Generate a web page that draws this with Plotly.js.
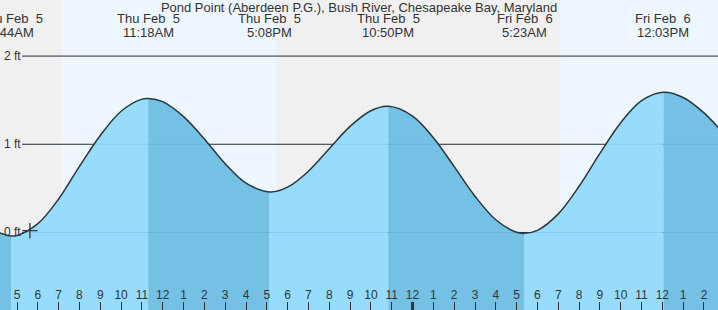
<!DOCTYPE html>
<html>
<head>
<meta charset="utf-8">
<script src="https://cdn.plot.ly/plotly-3.0.1.min.js"></script>
<style>
html,body{margin:0;padding:0;background:#f0f0f0;}
#chart{width:718px;height:310px;}
</style>
</head>
<body>
<div id="chart"></div>
<script>
// ---- data (hours since midnight Thu Feb 5, height in feet) ----
const tideHours = [4, 4.733, 5, 6, 7, 8, 9, 10, 11, 11.3, 12, 13, 14, 15, 16, 17.133, 18, 19, 20, 21, 22, 22.833, 24, 25, 26, 27, 28, 29, 29.383, 30, 31, 32, 33, 34, 35, 36.05, 37, 38, 39];
const tideFeet  = [0.01, -0.04, -0.034, 0.10, 0.38, 0.75, 1.10, 1.375, 1.512, 1.52, 1.483, 1.313, 1.06, 0.78, 0.56, 0.46, 0.514, 0.695, 0.95, 1.203, 1.38, 1.43, 1.32, 1.074, 0.747, 0.411, 0.144, 0.002, -0.01, 0.024, 0.211, 0.524, 0.897, 1.245, 1.494, 1.59, 1.531, 1.356, 1.105];

const extremeHours = [4.733, 11.3, 17.133, 22.833, 29.383, 36.05];
const extremeFeet  = [-0.04, 1.52, 0.46, 1.43, -0.01, 1.59];
const extremeDays  = ['Thu Feb\u00a0\u00a05', 'Thu Feb\u00a0\u00a05', 'Thu Feb\u00a0\u00a05', 'Thu Feb\u00a0\u00a05', 'Fri Feb\u00a0\u00a06', 'Fri Feb\u00a0\u00a06'];
const extremeClock = ['4:44AM', '11:18AM', '5:08PM', '10:50PM', '5:23AM', '12:03PM'];

const hourTicks  = [5,6,7,8,9,10,11,12,13,14,15,16,17,18,19,20,21,22,23,24,25,26,27,28,29,30,31,32,33,34,35,36,37,38];
const hourLabels = ['5','6','7','8','9','10','11','12','1','2','3','4','5','6','7','8','9','10','11','12','1','2','3','4','5','6','7','8','9','10','11','12','1','2'];
const midnightHours = [24];

const gridFeet   = [0, 1, 2];
const gridLabels = ['0 ft', '1 ft', '2 ft'];

const daylight = [[7.113, 17.474], [31.11, 41.5]];   // sunrise, sunset

const nowHour = [5.62];
const nowFeet = [0.02];

const titleText = 'Pond Point (Aberdeen P.G.), Bush River, Chesapeake Bay, Maryland';

// ---- axes ----
const xRange = [4.183, 38.673];
const yRange = [-0.879, 2.636];
const W = 718, H = 310;

const FONT = 'Liberation Sans, Arial, sans-serif';
const INK = '#333333';
const LIGHT = '#97dcfd';
const DARK = '#74c1e5';

// ---- traces ----
const traces = [];
const bounds = [tideHours[0], ...extremeHours, tideHours[tideHours.length - 1]];
for (let s = 0; s < bounds.length - 1; s++) {
  const a = bounds[s], b = bounds[s + 1];
  const xs = [], ys = [];
  tideHours.forEach((h, i) => { if (h >= a - 1e-9 && h <= b + 1e-9) { xs.push(h); ys.push(tideFeet[i]); } });
  const rising = ys[ys.length - 1] > ys[0];
  traces.push({x: [a, b], y: [yRange[0], yRange[0]], mode: 'lines', line: {width: 0}, hoverinfo: 'skip', showlegend: false});
  traces.push({x: xs, y: ys, mode: 'lines', fill: 'tonexty', fillcolor: rising ? LIGHT : DARK,
    line: {width: 0, shape: 'spline', smoothing: 1}, hoverinfo: 'skip', showlegend: false});
}
traces.push({x: tideHours, y: tideFeet, mode: 'lines', line: {color: INK, width: 1.5, shape: 'spline', smoothing: 1}, hoverinfo: 'skip', showlegend: false});
traces.push({x: nowHour, y: nowFeet, mode: 'markers', marker: {symbol: 'cross-thin', size: 11, line: {color: INK, width: 1.3}}, hoverinfo: 'skip', showlegend: false});

// ---- shapes ----
const shapes = [];
daylight.forEach(d => shapes.push({type: 'rect', xref: 'x', yref: 'paper', x0: d[0], x1: d[1], y0: 0, y1: 1, fillcolor: '#eef7ff', line: {width: 0}, layer: 'below'}));
gridFeet.forEach(f => shapes.push({type: 'line', xref: 'paper', yref: 'y', x0: 22 / W, x1: 1, y0: f, y1: f, line: {color: INK, width: 1}, layer: 'below'}));
gridFeet.forEach(f => shapes.push({type: 'line', xref: 'paper', yref: 'y', x0: 22 / W, x1: 1, y0: f, y1: f, line: {color: 'rgba(0,80,140,0.10)', width: 1}, layer: 'above'}));
midnightHours.forEach(h => shapes.push({type: 'line', xref: 'x', yref: 'paper', x0: h, x1: h, y0: 0, y1: 8 / H, line: {color: INK, width: 3}, layer: 'above'}));

// ---- annotations ----
const annotations = [];
extremeHours.forEach((h, i) => {
  annotations.push({xref: 'x', yref: 'paper', x: h, y: 1 - 19 / H, text: extremeDays[i], showarrow: false, xanchor: 'center', yanchor: 'middle', font: {family: FONT, size: 13, color: INK}});
  annotations.push({xref: 'x', yref: 'paper', x: h, y: 1 - 32 / H, text: extremeClock[i], showarrow: false, xanchor: 'center', yanchor: 'middle', font: {family: FONT, size: 13, color: INK}});
});
gridFeet.forEach((f, i) => annotations.push({xref: 'paper', yref: 'y', x: 0, xshift: 2, y: f, text: gridLabels[i], showarrow: false, xanchor: 'left', yanchor: 'middle', font: {family: FONT, size: 12, color: INK}}));

const layout = {
  width: W, height: H,
  margin: {l: 0, r: 0, t: 0, b: 0, pad: 0},
  paper_bgcolor: '#f0f0f0', plot_bgcolor: '#f0f0f0',
  title: {text: titleText, x: 0.5, xanchor: 'center', y: 1 - 7 / H, yanchor: 'middle', yref: 'container', font: {family: FONT, size: 13, color: INK}},
  xaxis: {range: xRange, tickvals: hourTicks, ticktext: hourLabels, ticks: 'inside', ticklen: 8, tickwidth: 1, tickcolor: INK,
    ticklabelposition: 'inside', tickfont: {family: FONT, size: 12, color: INK}, showgrid: false, zeroline: false, showline: false, fixedrange: true},
  yaxis: {range: yRange, visible: false, showgrid: false, zeroline: false, fixedrange: true},
  shapes: shapes, annotations: annotations, showlegend: false
};

Plotly.newPlot('chart', traces, layout, {staticPlot: true, displayModeBar: false});
</script>
</body>
</html>
